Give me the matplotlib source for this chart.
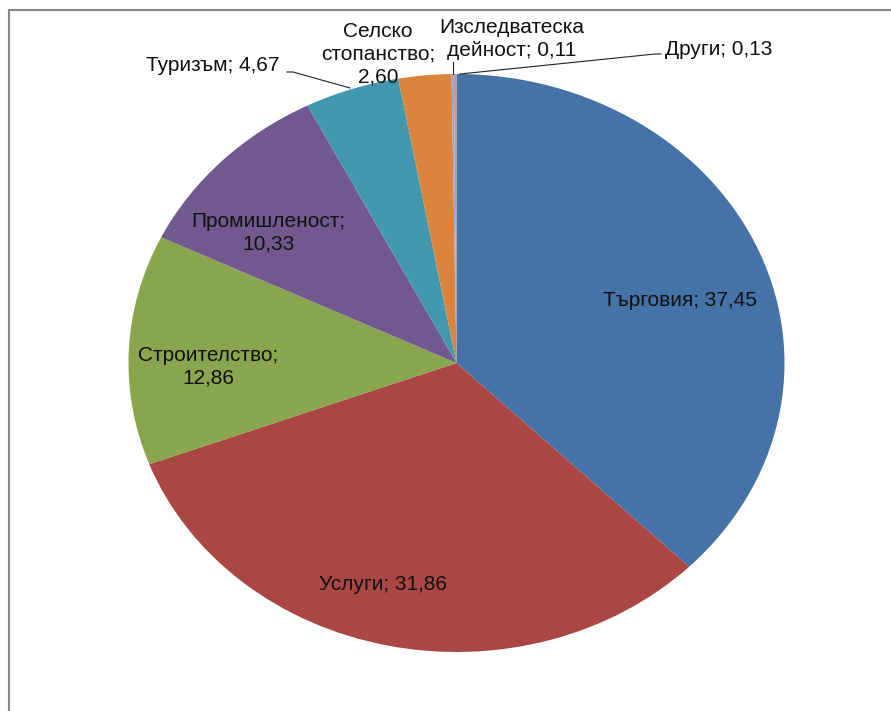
import matplotlib.pyplot as plt
import numpy as np

plt.rcParams['font.family'] = ['Liberation Sans', 'DejaVu Sans']

sectors = ["Търговия", "Услуги", "Строителство", "Промишленост", "Туризъм",
           "Селско\nстопанство", "Изследватеска\nдейност", "Други"]
values = [37.45, 31.86, 12.86, 10.33, 4.67, 2.60, 0.11, 0.13]
colors = ["#4572A7", "#AA4643", "#89A54E", "#71588F", "#4198AF",
          "#DB843D", "#93A9CF", "#D19392"]

W, H = 891, 711
cx, cy, rx, ry = 456.5, 363, 328, 289

def px(x, y):
    # pixel position -> data coords (pie radius 1 stretched to rx, ry)
    return (x - cx) / rx, (cy - y) / ry

fig = plt.figure(figsize=(W / 100, H / 100), dpi=100)
ax = fig.add_axes([0, 0, 1, 1])
ax.pie(values, colors=colors, startangle=90, counterclock=False,
       wedgeprops=dict(linewidth=0))
ax.set_aspect('auto')
ax.set_xlim((0 - cx) / rx, (W - cx) / rx)
ax.set_ylim((cy - H) / ry, cy / ry)
ax.axis('off')

# label layout (pixel centers)
label_pos = [(680, 301), (383, 585), (208, 367), (268, 233), (213, 66),
             (378, 54), (512, 39), (719, 50)]
labels = []
for name, v in zip(sectors, values):
    val = f"{v:.2f}".replace(".", ",")
    if name == "Строителство" or name == "Промишленост":
        labels.append(f"{name};\n{val}")
    elif "\n" in name:
        labels.append(f"{name}; {val}" if name.startswith("Изсл") else f"{name};\n{val}")
    else:
        labels.append(f"{name}; {val}")

for lab, (x, y) in zip(labels, label_pos):
    dx, dy = px(x, y)
    ax.text(dx, dy, lab, ha='center', va='center', fontsize=15,
            color='#111111', linespacing=1.25)

# leader lines
leaders = [
    [(287, 72), (293, 72), (350, 88)],
    [(453, 62), (453, 74)],
    [(661, 54), (655, 54), (460, 74)],
]
for pts in leaders:
    xs, ys = zip(*[px(x, y) for x, y in pts])
    ax.plot(xs, ys, color='#222222', linewidth=0.8)

# frame border
fig.add_artist(plt.Rectangle((8.5 / W, -0.1), 1.1, (H - 9.5) / H + 0.1,
                             transform=fig.transFigure, fill=False,
                             edgecolor='#888888', linewidth=1.5))

fig.savefig("out.png", dpi=100)
